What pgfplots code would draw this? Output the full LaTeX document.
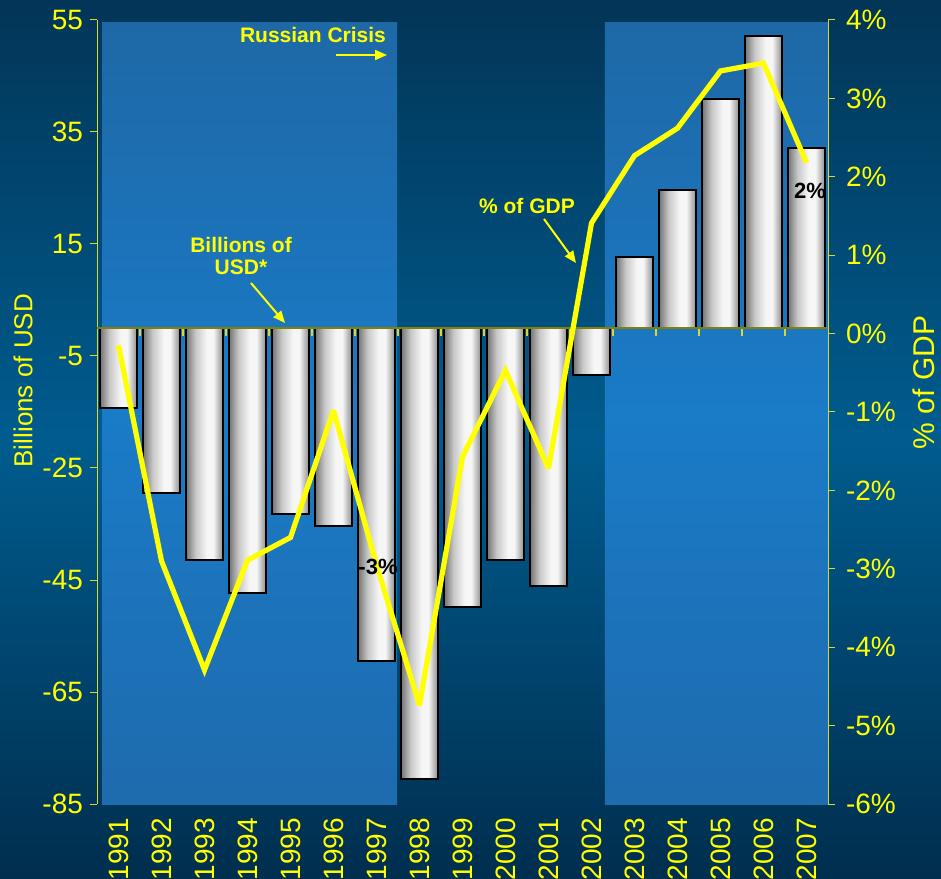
\documentclass[border=0pt]{standalone}
\usepackage{pgfplots}
\pgfplotsset{compat=1.18}
\usepackage{pgfplotstable}
\usepackage{fontspec}
\setmainfont{Liberation Sans}
\usetikzlibrary{arrows.meta}

\definecolor{bgtop}{HTML}{023557}
\definecolor{bgmid}{HTML}{005C8F}
\definecolor{bgbot}{HTML}{002E4E}
\definecolor{paneltop}{HTML}{1E68A6}
\definecolor{panelmid}{HTML}{1A7BC7}
\definecolor{panelbot}{HTML}{1E6BAD}
\definecolor{ylw}{HTML}{FFFF00}
\definecolor{axisylw}{HTML}{D8D830}
\definecolor{zeroline}{HTML}{847E08}
\definecolor{barL}{HTML}{747474}
\definecolor{barR}{HTML}{8C8C8C}
\definecolor{barW}{HTML}{F6F6F6}

\pgfdeclarehorizontalshading{cyl}{100bp}{color(0bp)=(barL); color(25bp)=(barL); color(38bp)=(barW!65!barL); color(53bp)=(barW); color(62bp)=(barW); color(75bp)=(barR); color(100bp)=(barR)}

\newcommand\tickfont{\fontsize{14}{16}\selectfont}
\newcommand\annfont{\bfseries\fontsize{10.5}{11}\selectfont}

\pgfplotstableread{
x usd gdp
0 -14.2 -0.15
1 -29.4 -2.90
2 -41.5 -4.29
3 -47.4 -2.89
4 -33.2 -2.60
5 -35.3 -0.98
6 -59.4 -2.95
7 -80.5 -4.74
8 -49.8 -1.57
9 -41.5 -0.47
10 -46.1 -1.72
11 -8.4 1.41
12 12.7 2.27
13 24.7 2.62
14 40.9 3.35
15 52.1 3.45
16 32.2 2.18
}\datatable

\begin{document}
\begin{tikzpicture}
\useasboundingbox (0,0) rectangle (470.5pt,439pt);
\shade[top color=bgtop, bottom color=bgbot, middle color=bgmid] (0,0) rectangle (470.5pt,439pt);

\begin{axis}[
  at={(48.5pt,37pt)}, anchor=south west,
  scale only axis, width=365.5pt, height=392pt,
  xmin=-0.5, xmax=16.5, ymin=-85, ymax=55,
  axis x line*=bottom, axis y line*=left,
  x axis line style={draw=none},
  xtick={0,...,16},
  xticklabels={1991,1992,1993,1994,1995,1996,1997,1998,1999,2000,2001,2002,2003,2004,2005,2006,2007},
  major x tick style={draw=none},
  xticklabel style={rotate=90, anchor=east, font=\tickfont, text=ylw},
  ytick={-85,-65,...,55},
  yticklabel style={font=\tickfont, text=ylw},
  y axis line style={axisylw, line width=0.5pt},
  ytick style={axisylw, line width=0.5pt},
  tick align=outside, major tick length=3.5pt,
  /pgf/number format/assume math mode=true,
  ylabel={Billions of USD},
  ylabel style={at={(axis description cs:-0.101,0.54)}, anchor=center, rotate=0, font=\fontsize{13}{15}\selectfont, text=ylw},
]
\shade[top color=paneltop, bottom color=panelbot, middle color=panelmid] (axis cs:-0.38,-85) rectangle (axis cs:6.48,54.5);
\shade[top color=paneltop, bottom color=panelbot, middle color=panelmid] (axis cs:11.31,-85) rectangle (axis cs:16.5,54.5);
\pgfplotsinvokeforeach{0,...,16}{
  \addplot[ybar, bar width=0.86, draw=black, line width=1pt, shade, shading=cyl, restrict x to domain=#1:#1] table[x=x, y=usd] {\datatable};
}
\pgfplotsinvokeforeach{0.5,1.5,...,15.5}{\draw[axisylw, line width=0.6pt] (axis cs:#1,0) -- (axis cs:#1,-1.4);}
\draw[zeroline, line width=1pt] (axis cs:-0.5,0) -- (axis cs:16.5,0);
\end{axis}

\begin{axis}[
  at={(48.5pt,37pt)}, anchor=south west,
  scale only axis, width=365.5pt, height=392pt,
  xmin=-0.5, xmax=16.5, ymin=-6, ymax=4,
  axis x line=none, axis y line*=right,
  ytick={-6,...,4},
  yticklabel={\pgfmathprintnumber{\tick}\%},
  yticklabel style={font=\tickfont, text=ylw, xshift=2pt},
  y axis line style={axisylw, line width=0.5pt},
  ytick style={axisylw, line width=0.5pt},
  tick align=outside, major tick length=3.5pt,
  /pgf/number format/assume math mode=true,
  ylabel={\% of GDP},
  ylabel style={at={(axis description cs:1.1305,0.5376)}, anchor=center, rotate=0, inner sep=0pt, font=\fontsize{15}{17}\selectfont, text=ylw},
]
\addplot[ylw, line width=2.6pt, line join=miter, miter limit=3, mark=none] table[x=x, y=gdp] {\datatable};
\end{axis}

\begin{scope}[x=0.5pt, y=-0.5pt, shift={(0,439pt)}]
\node[font=\annfont, text=ylw] at (313,35) {Russian Crisis};
\draw[ylw, line width=1pt, -{Triangle[length=6pt,width=5pt]}] (336,55) -- (387,55);
\node[font=\annfont, text=ylw, align=center] at (241,256) {Billions of\\USD*};
\draw[ylw, line width=1pt, -{Triangle[length=6pt,width=5pt]}] (251,283) -- (285,323);
\node[font=\annfont, text=ylw] at (527,206) {\% of GDP};
\draw[ylw, line width=1pt, -{Triangle[length=6pt,width=5pt]}] (544,219) -- (576,263);
\node[font=\bfseries\fontsize{11}{12}\selectfont, text=black] at (810,191) {2\%};
\node[font=\bfseries\fontsize{11}{12}\selectfont, text=black] at (378,567) {-3\%};
\end{scope}
\end{tikzpicture}
\end{document}
